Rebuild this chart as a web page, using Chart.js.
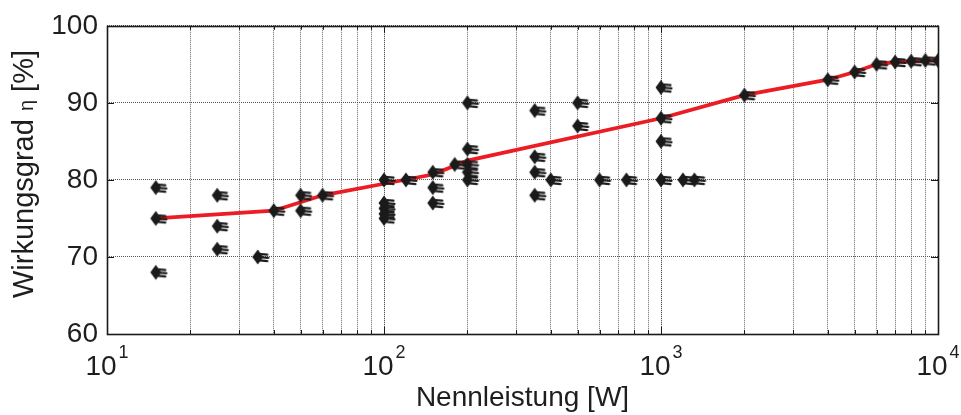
<!DOCTYPE html>
<html lang="de">
<head>
<meta charset="utf-8">
<title>Wirkungsgrad über Nennleistung</title>
<script src="https://cdn.jsdelivr.net/npm/chart.js@4/dist/chart.umd.min.js"></script>
<style>
  html, body { margin: 0; padding: 0; background: #ffffff; }
  canvas { display: block; }
</style>
</head>
<body>
<canvas id="chart" width="961" height="415"></canvas>
<script>
// Measured devices: rated power [W] and efficiency [%]
const powerW = [
  15, 15, 15,
  25, 25, 25,
  35, 40, 50, 50, 60,
  100, 100, 100, 100, 100,
  120, 150, 150, 150, 180,
  200, 200, 200, 200, 200,
  350, 350, 350, 350, 400,
  500, 500, 600, 750,
  1000, 1000, 1000, 1000, 1200, 1320,
  2000, 4000, 5000, 6000, 7000, 8000, 9000, 10000
];
const efficiencyPct = [
  79, 75, 68,
  78, 74, 71,
  70, 76, 78, 76, 78,
  80, 77, 76.3, 75.6, 75,
  80, 81, 79, 77, 82,
  90, 84, 82, 81, 80,
  89, 83, 81, 78, 80,
  90, 87, 80, 80,
  92, 88, 85, 80, 80, 80,
  91, 93, 94, 95, 95.3, 95.4, 95.5, 95.5
];

// Typical efficiency curve
const trendPowerW = [15, 40, 60, 100, 150, 200, 1000, 2000, 4000, 5000, 6000, 7000, 8000, 9000, 10000];
const trendEfficiencyPct = [75, 76, 78, 79.5, 80.7, 82.5, 88, 91, 93, 94, 95, 95.3, 95.4, 95.5, 95.5];

// Axis ticks
const xDecades = [10, 100, 1000, 10000];
const xMinorFactors = [1, 2, 3, 4, 5, 6, 7, 8, 9];
const yTicks = [60, 70, 80, 90, 100];

const FONT = "'Liberation Sans', Arial, Helvetica, sans-serif";
const TEXT = '#1e1e1e';

// every grid value of the log axis: 10, 20, ..., 90, 100, 200, ... 10000
const xGridValues = [];
xDecades.slice(0, -1).forEach(d => xMinorFactors.forEach(f => xGridValues.push(d * f)));
xGridValues.push(xDecades[xDecades.length - 1]);

// marker: filled diamond with a small comb on its right side
function makeMarker() {
  const c = document.createElement('canvas');
  c.width = 30; c.height = 18;
  const g = c.getContext('2d');
  g.fillStyle = '#1b1b1b';
  g.strokeStyle = '#1b1b1b';
  g.beginPath();
  g.moveTo(15, 1.5); g.lineTo(20.5, 9); g.lineTo(15, 16.5); g.lineTo(9.5, 9);
  g.closePath(); g.fill();
  g.lineWidth = 2.2;
  g.lineCap = 'round';
  [5.8, 9, 12.2].forEach((y, i) => {
    g.beginPath();
    g.moveTo(15, y);
    g.lineTo(i === 1 ? 25.5 : 24.5, y + 0.9);
    g.stroke();
  });
  return c;
}
const marker = makeMarker();

const scatterPoints = powerW.map((p, i) => ({ x: p, y: efficiencyPct[i] }));
const trendPoints = trendPowerW.map((p, i) => ({ x: p, y: trendEfficiencyPct[i] }));

// box frame and inward tick marks on all four sides
const framePlugin = {
  id: 'frame',
  beforeDatasetsDraw(chart) {
    const { ctx, chartArea: a, scales: { x, y } } = chart;
    ctx.save();
    ctx.strokeStyle = '#1a1a1a';
    ctx.lineWidth = 1;
    ctx.beginPath();
    xGridValues.forEach(v => {
      const px = Math.round(x.getPixelForValue(v)) + 0.5;
      const major = xDecades.includes(v);
      const len = major ? 7 : 4;
      ctx.moveTo(px, a.bottom); ctx.lineTo(px, a.bottom - len);
      ctx.moveTo(px, a.top); ctx.lineTo(px, a.top + len);
    });
    yTicks.forEach(v => {
      const py = Math.round(y.getPixelForValue(v)) + 0.5;
      ctx.moveTo(a.left, py); ctx.lineTo(a.left + 7, py);
      ctx.moveTo(a.right, py); ctx.lineTo(a.right - 7, py);
    });
    ctx.stroke();
    ctx.lineWidth = 1.6;
    ctx.strokeRect(Math.round(a.left) + 0.5, Math.round(a.top) + 0.5,
                   Math.round(a.right - a.left), Math.round(a.bottom - a.top));
    ctx.restore();
  }
};

// decade labels 10^n with superscript exponents, and the vertical axis title
const labelPlugin = {
  id: 'labels',
  afterDraw(chart) {
    const { ctx, chartArea: a, scales: { x } } = chart;
    ctx.save();
    ctx.fillStyle = TEXT;
    ctx.textBaseline = 'alphabetic';
    ctx.textAlign = 'left';
    xDecades.forEach(v => {
      const exp = String(Math.round(Math.log10(v)));
      ctx.font = `28px ${FONT}`;
      const wBase = ctx.measureText('10').width;
      ctx.font = `18px ${FONT}`;
      const wExp = ctx.measureText(exp).width;
      const total = wBase + 2 + wExp;
      const left = x.getPixelForValue(v) - total / 2;
      ctx.font = `28px ${FONT}`;
      ctx.fillText('10', left, a.bottom + 41);
      ctx.font = `18px ${FONT}`;
      ctx.fillText(exp, left + wBase + 2, a.bottom + 24);
    });

    // rotated title: Wirkungsgrad η [%]
    const parts = [
      { t: 'Wirkungsgrad ', size: 29, shift: 0 },
      { t: 'η', size: 20, shift: 0 },
      { t: ' [%]', size: 29, shift: 0 }
    ];
    let total = 0;
    parts.forEach(p => { ctx.font = `${p.size}px ${FONT}`; p.w = ctx.measureText(p.t).width; total += p.w; });
    ctx.translate(33, 174);
    ctx.rotate(-Math.PI / 2);
    let cx = -total / 2;
    parts.forEach(p => {
      ctx.font = `${p.size}px ${FONT}`;
      ctx.fillText(p.t, cx, p.shift);
      cx += p.w;
    });
    ctx.restore();
  }
};

new Chart(document.getElementById('chart'), {
  type: 'scatter',
  data: {
    datasets: [
      {
        label: 'Messwerte',
        data: scatterPoints,
        pointStyle: marker,
        pointRadius: 9,
        pointHoverRadius: 9,
        showLine: false
      },
      {
        type: 'line',
        label: 'Typischer Verlauf',
        data: trendPoints,
        borderColor: '#ec1c24',
        borderWidth: 3.8,
        pointRadius: 0,
        fill: false,
        tension: 0
      }
    ]
  },
  options: {
    responsive: false,
    animation: false,
    layout: { padding: { left: 0, right: 23, top: 22, bottom: 0 } },
    plugins: {
      legend: { display: false },
      tooltip: { enabled: false }
    },
    scales: {
      x: {
        type: 'logarithmic',
        min: 10,
        max: 10000,
        afterBuildTicks: s => { s.ticks = xGridValues.map(v => ({ value: v })); },
        afterFit: s => { s.height = 81; },
        ticks: { display: false },
        grid: {
          color: ctx => (ctx.tick && xDecades.includes(ctx.tick.value) ? '#2e2e2e' : '#6a6a6a'),
          lineWidth: 1,
          drawTicks: false
        },
        border: { display: false, dash: [1, 1] },
        title: {
          display: true,
          text: 'Nennleistung [W]',
          color: TEXT,
          font: { family: FONT, size: 28 },
          padding: { top: 0, bottom: 0 }
        }
      },
      y: {
        min: 60,
        max: 100,
        afterBuildTicks: s => { s.ticks = yTicks.map(v => ({ value: v })); },
        afterFit: s => { s.width = 107; },
        ticks: {
          padding: 9,
          color: TEXT,
          font: { family: FONT, size: 28 }
        },
        grid: { color: '#555555', lineWidth: 1, drawTicks: false },
        border: { display: false, dash: [1, 1] }
      }
    }
  },
  plugins: [framePlugin, labelPlugin]
});
</script>
</body>
</html>
